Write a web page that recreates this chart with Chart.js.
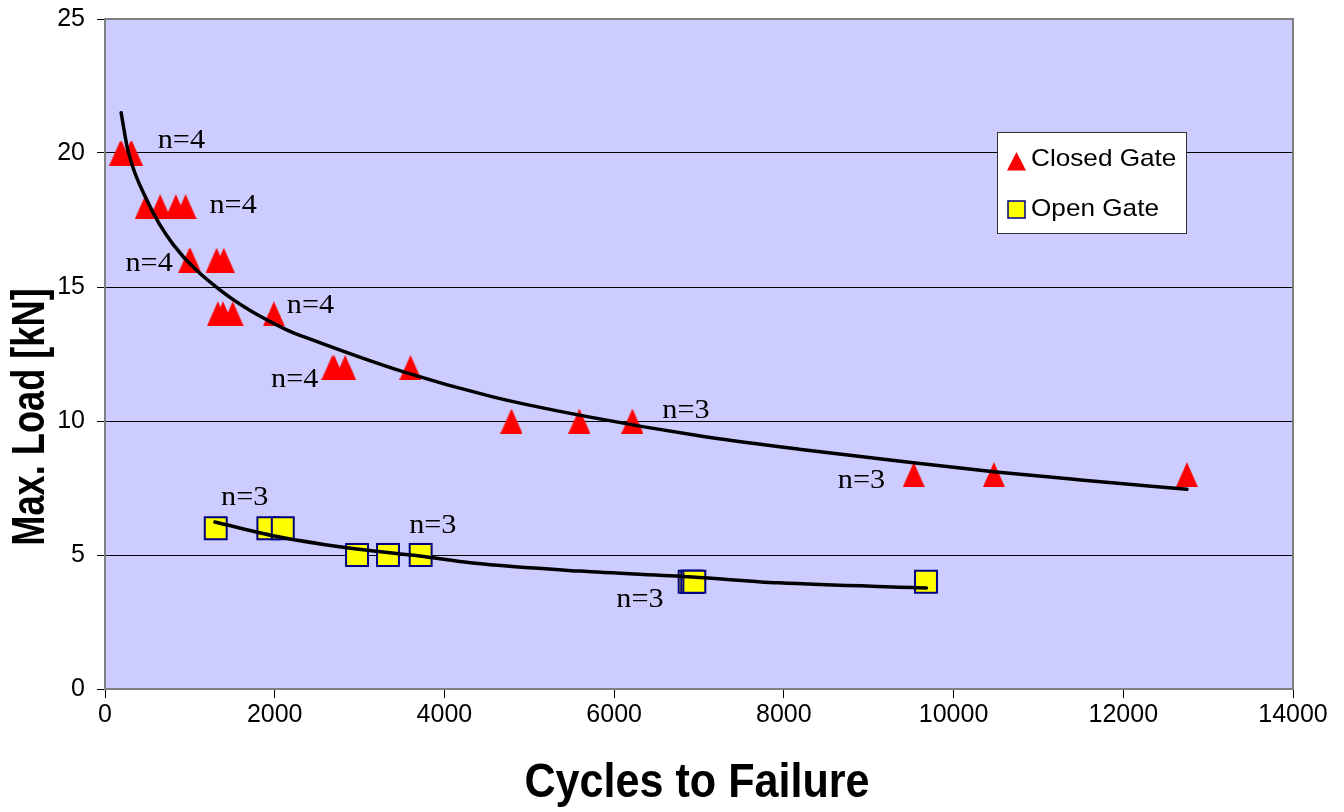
<!DOCTYPE html>
<html>
<head>
<meta charset="utf-8">
<script src="https://cdn.jsdelivr.net/npm/chart.js@4.4.1/dist/chart.umd.min.js"></script>
<style>
  html, body { margin: 0; padding: 0; background: #ffffff; }
  #wrap { width: 1344px; height: 812px; }
  canvas { display: block; }
</style>
</head>
<body>
<div id="wrap"><canvas id="chart" width="1344" height="812"></canvas></div>
<script>
// Closed gate specimens: cycles to failure and maximum load
const closedCycles = [180, 195, 305, 315, 480, 650, 835, 950, 995, 1005, 1315, 1400,
                      1330, 1390, 1505, 1990, 2680, 2700, 2830, 3600, 4790, 5590, 6215,
                      9530, 10475, 12750];
const closedLoad   = [20, 20, 20, 20, 18, 18, 18, 18, 16, 16, 16, 16,
                      14, 14, 14, 14, 12, 12, 12, 12, 10, 10, 10,
                      8, 8, 8];

// Open gate specimens
const openCycles = [1305, 1925, 2095, 2970, 3335, 3720, 6890, 6920, 6945, 9675];
const openLoad   = [6, 6, 6, 5, 5, 5, 4, 4, 4, 4];

// Trend curves
const closedTrendCycles = [190, 270, 500, 800, 1350, 2140, 2380, 3500, 4570, 5620, 7000, 8180, 9500, 10500, 11500, 12750];
const closedTrendLoad   = [21.5, 20.1, 18.2, 16.6, 14.9, 13.4, 13.1, 11.85, 10.9, 10.2, 9.45, 8.95, 8.45, 8.1, 7.8, 7.45];
const openTrendCycles = [1295, 2060, 2965, 3705, 4330, 5590, 6920, 7940, 9680];
const openTrendLoad   = [6.23, 5.67, 5.22, 4.96, 4.70, 4.40, 4.18, 3.96, 3.77];

// Specimen-count notes
const noteText   = ['n=4', 'n=4', 'n=4', 'n=4', 'n=4', 'n=3', 'n=3', 'n=3', 'n=3', 'n=3'];
const noteCycles = [900, 1510, 520, 2421, 2235, 6847, 8914, 1647, 3863, 6304];
const noteLoad   = [20.18, 17.75, 15.61, 14.02, 11.26, 10.10, 7.49, 6.87, 5.81, 3.05];

// Axis settings
const xMin = 0, xMax = 14000, xStep = 2000;
const yMin = 0, yMax = 25, yStep = 5;
const xTitle = 'Cycles to Failure';
const yTitle = 'Max. Load [kN]';
const seriesNames = ['Closed Gate', 'Open Gate'];

const toPoints = (xs, ys) => xs.map((x, i) => ({ x: x, y: ys[i] }));

const RED = '#ff0000';
const YELLOW = '#ffff00';
const NAVY = '#000080';
const PLOT_BG = '#ccccff';

function triangleImage(w, h, color) {
  const c = document.createElement('canvas');
  c.width = w; c.height = h;
  const g = c.getContext('2d');
  g.fillStyle = color;
  g.beginPath();
  g.moveTo(w / 2, 0);
  g.lineTo(w, h);
  g.lineTo(0, h);
  g.closePath();
  g.fill();
  return c;
}
const triMarker = triangleImage(22, 25, RED);

function scaledText(ctx, text, x, y, font, sx, align, baseline, color, rot) {
  ctx.save();
  ctx.translate(x, y);
  if (rot) ctx.rotate(rot);
  ctx.scale(sx, 1);
  ctx.font = font;
  ctx.fillStyle = color || '#000';
  ctx.textAlign = align;
  ctx.textBaseline = baseline;
  ctx.fillText(text, 0, 0);
  ctx.restore();
}

const framePlugin = {
  id: 'frame',
  beforeDraw(chart) {
    const { ctx, chartArea: a } = chart;
    ctx.save();
    ctx.fillStyle = '#ffffff';
    ctx.fillRect(0, 0, chart.width, chart.height);
    ctx.fillStyle = PLOT_BG;
    ctx.fillRect(a.left, a.top, a.right - a.left, a.bottom - a.top);
    ctx.restore();
  },
  beforeDatasetsDraw(chart) {
    const { ctx, chartArea: a } = chart;
    ctx.save();
    ctx.strokeStyle = '#808080';
    ctx.lineWidth = 2;
    ctx.strokeRect(a.left, a.top, a.right - a.left, a.bottom - a.top);
    ctx.restore();
  },
  afterDatasetsDraw(chart) {
    const { ctx } = chart;
    const xs = chart.scales.x, ys = chart.scales.y;
    // specimen counts
    noteText.forEach((t, i) => {
      scaledText(ctx, t, xs.getPixelForValue(noteCycles[i]), ys.getPixelForValue(noteLoad[i]),
        '27px "Liberation Serif", "Times New Roman", serif', 1.12, 'center', 'alphabetic', '#000');
    });
  },
  afterDraw(chart) {
    const { ctx, chartArea: a } = chart;
    // axis titles
    scaledText(ctx, xTitle, (a.left + a.right) / 2 - 2, 783,
      'bold 49px "Liberation Sans", Arial, sans-serif', 0.88, 'center', 'middle', '#000');
    scaledText(ctx, yTitle, 31, 417,
      'bold 47px "Liberation Sans", Arial, sans-serif', 0.77, 'center', 'middle', '#000', -Math.PI / 2);

    // legend
    const bx = 997, by = 132, bw = 189, bh = 101;
    ctx.save();
    ctx.fillStyle = '#ffffff';
    ctx.fillRect(bx, by, bw, bh);
    ctx.strokeStyle = '#333333';
    ctx.lineWidth = 1;
    ctx.strokeRect(bx + 0.5, by + 0.5, bw, bh);
    // triangle entry
    ctx.fillStyle = RED;
    ctx.beginPath();
    ctx.moveTo(1016.5, 152);
    ctx.lineTo(1026, 170.5);
    ctx.lineTo(1007, 170.5);
    ctx.closePath();
    ctx.fill();
    // square entry
    ctx.fillStyle = YELLOW;
    ctx.fillRect(1008, 201, 17, 17);
    ctx.strokeStyle = NAVY;
    ctx.lineWidth = 1.5;
    ctx.strokeRect(1008, 201, 17, 17);
    ctx.restore();
    scaledText(ctx, seriesNames[0], 1031, 166, '24px "Liberation Sans", Arial, sans-serif', 1.09, 'left', 'alphabetic', '#000');
    scaledText(ctx, seriesNames[1], 1031, 216, '24px "Liberation Sans", Arial, sans-serif', 1.09, 'left', 'alphabetic', '#000');
  }
};

new Chart(document.getElementById('chart'), {
  type: 'scatter',
  data: {
    datasets: [
      {
        label: seriesNames[0] + ' trend',
        data: toPoints(closedTrendCycles, closedTrendLoad),
        showLine: true,
        borderColor: '#000000',
        borderWidth: 3.5,
        borderCapStyle: 'round',
        borderJoinStyle: 'round',
        cubicInterpolationMode: 'monotone',
        pointRadius: 0,
        order: 0
      },
      {
        label: seriesNames[1] + ' trend',
        data: toPoints(openTrendCycles, openTrendLoad),
        showLine: true,
        borderColor: '#000000',
        borderWidth: 3.5,
        borderCapStyle: 'round',
        borderJoinStyle: 'round',
        cubicInterpolationMode: 'monotone',
        pointRadius: 0,
        order: 0
      },
      {
        label: seriesNames[0],
        data: toPoints(closedCycles, closedLoad),
        pointStyle: triMarker,
        pointRadius: 12,
        backgroundColor: RED,
        borderColor: RED,
        order: 1
      },
      {
        label: seriesNames[1],
        data: toPoints(openCycles, openLoad),
        pointStyle: 'rect',
        pointRadius: 15.5,
        backgroundColor: YELLOW,
        borderColor: NAVY,
        borderWidth: 2,
        order: 1
      }
    ]
  },
  options: {
    responsive: false,
    animation: false,
    devicePixelRatio: 1,
    layout: { padding: { top: 19, right: 51, left: 0, bottom: 0 } },
    plugins: {
      legend: { display: false },
      tooltip: { enabled: false },
      title: { display: false }
    },
    scales: {
      x: {
        type: 'linear',
        min: xMin, max: xMax,
        ticks: {
          stepSize: xStep,
          color: '#000',
          padding: 2,
          font: { family: '"Liberation Sans", Arial, sans-serif', size: 25 },
          maxRotation: 0,
          callback: (v) => String(v)
        },
        grid: { drawOnChartArea: false, drawTicks: true, tickLength: 9, color: '#000', lineWidth: 1 },
        border: { display: false },
        afterFit(scale) {
          scale.height = 123;
          scale.paddingLeft = 0;
          scale.paddingRight = 0;
        }
      },
      y: {
        type: 'linear',
        min: yMin, max: yMax,
        ticks: {
          stepSize: yStep,
          color: '#000',
          padding: 12,
          font: { family: '"Liberation Sans", Arial, sans-serif', size: 25 },
          callback: (v) => String(v)
        },
        grid: { drawTicks: true, tickLength: 8, color: '#000', lineWidth: 1 },
        border: { display: false },
        afterFit(scale) {
          scale.width = 105;
          scale.paddingTop = 0;
          scale.paddingBottom = 0;
        }
      }
    }
  },
  plugins: [framePlugin]
});
</script>
</body>
</html>
